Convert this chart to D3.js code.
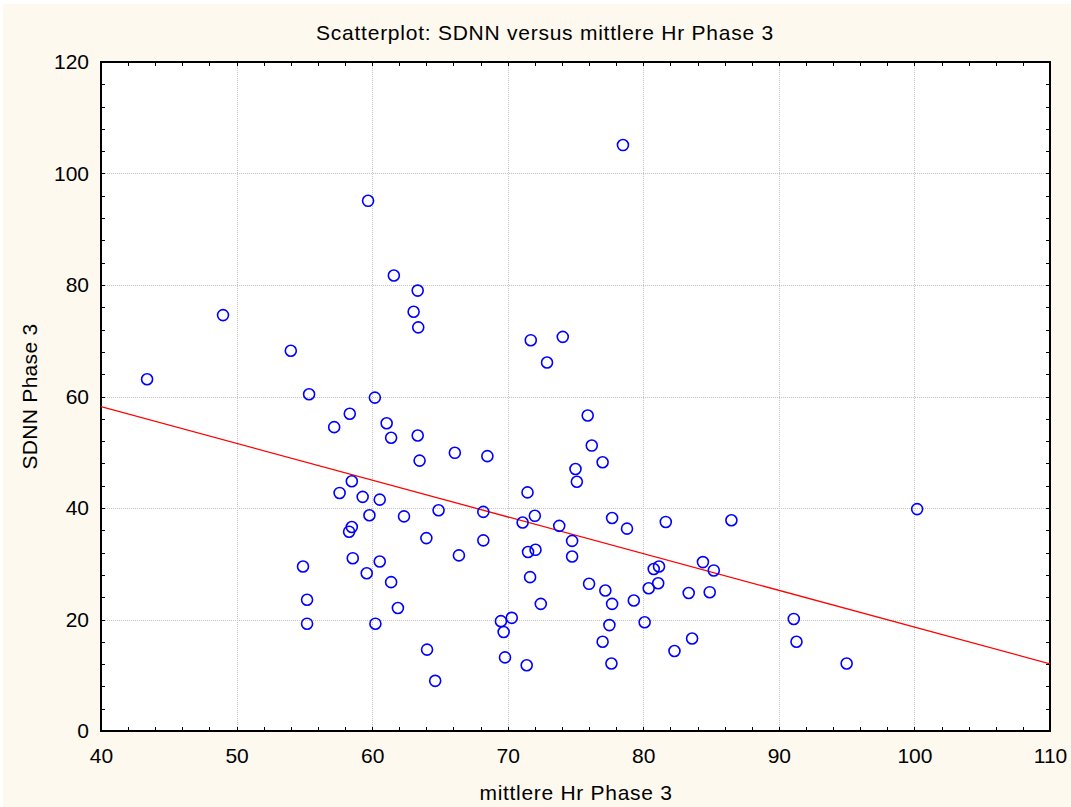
<!DOCTYPE html>
<html>
<head>
<meta charset="utf-8">
<script src="https://cdn.jsdelivr.net/npm/d3@7"></script>
<style>
  html, body { margin: 0; padding: 0; background: #ffffff; }
  svg { display: block; }
  text { font-family: "Liberation Sans", Arial, sans-serif; fill: #000; }
</style>
</head>
<body>
<svg id="chart" width="1071" height="807"></svg>
<script>
// mittlere Hr Phase 3 (x) and SDNN Phase 3 (y), one entry per subject
const hrPhase3 = [
  43.4, 49.0, 54.0, 55.35, 60.2, 61.6, 63.36, 63.06, 63.4, 58.35,
  57.2, 61.07, 61.4, 63.36, 63.5, 58.5, 57.6, 59.3, 60.56, 64.9,
  68.2, 71.1, 59.8, 62.35, 58.5, 58.3, 64.0, 68.2, 66.4, 58.57,
  60.56, 54.9, 59.6, 61.4, 55.2, 61.9, 55.2, 60.24, 69.5, 70.3,
  69.7, 69.8, 64.05, 64.65, 71.4, 71.7, 74.06, 72.9, 75.9, 76.2,
  68.5, 77.0, 75.0, 75.1, 71.46, 66.1, 72.0, 73.8, 77.7, 78.8,
  81.66, 86.5, 74.75, 71.5, 72.05, 74.75, 71.65, 76.0, 77.2, 77.7,
  72.44, 79.3, 80.4, 81.1, 80.77, 81.16, 84.4, 85.2, 83.35, 84.9,
  77.5, 77.0, 77.65, 80.1, 83.6, 82.3, 100.2, 91.1, 91.3, 95.0,
  78.5, 59.7
];
const sdnnPhase3 = [
  63.1, 74.6, 68.2, 60.4, 59.8, 81.7, 79.0, 75.2, 72.4, 56.9,
  54.5, 55.2, 52.6, 53.0, 48.5, 44.8, 42.7, 42.0, 41.5, 39.6,
  39.3, 37.4, 38.7, 38.5, 36.6, 35.75, 34.6, 34.2, 31.5, 31.0,
  30.4, 29.5, 28.3, 26.7, 23.55, 22.06, 19.25, 19.25, 19.7, 20.3,
  17.76, 13.2, 14.6, 9.0, 11.8, 70.1, 70.7, 66.1, 56.6, 51.2,
  49.3, 48.2, 47.0, 44.7, 42.8, 49.9, 38.6, 36.8, 38.2, 36.3,
  37.5, 37.8, 34.1, 32.1, 32.5, 31.3, 27.6, 26.4, 25.2, 22.8,
  22.8, 23.4, 25.6, 26.5, 29.06, 29.5, 30.3, 28.8, 24.75, 24.9,
  19.0, 16.0, 12.1, 19.5, 16.6, 14.35, 39.8, 20.1, 16.0, 12.1,
  105.1, 95.1
];

// Fitted linear regression: SDNN = intercept + slope * Hr
const fitIntercept = 84.54;
const fitSlope = -0.659;

// Axis ranges and tick labels
const xDomain = [40, 110];
const yDomain = [0, 120];
const xTickValues = [40, 50, 60, 70, 80, 90, 100, 110];
const yTickValues = [0, 20, 40, 60, 80, 100, 120];

const chartTitle = "Scatterplot: SDNN versus mittlere Hr Phase 3";
const xTitle = "mittlere Hr Phase 3";
const yTitle = "SDNN Phase 3";

const svg = d3.select("#chart");
const W = 1071, H = 807;
const m = { left: 101, right: 1050, top: 62, bottom: 731 };
const fontSize = 21;

// page background with a thin lighter margin
svg.append("rect").attr("x", 0).attr("y", 0).attr("width", W).attr("height", H).attr("fill", "#ffffff");
svg.append("rect").attr("x", 3).attr("y", 4).attr("width", W - 3).attr("height", H - 4).attr("fill", "#fdf9ef");

const x = d3.scaleLinear().domain(xDomain).range([m.left, m.right]);
const y = d3.scaleLinear().domain(yDomain).range([m.bottom, m.top]);

// plot area
svg.append("rect")
  .attr("x", m.left).attr("y", m.top)
  .attr("width", m.right - m.left).attr("height", m.bottom - m.top)
  .attr("fill", "#ffffff");

// dotted grid at the major ticks
const grid = svg.append("g").attr("stroke", "#c4c4c4").attr("stroke-width", 1).attr("stroke-dasharray", "1,1");
grid.selectAll(".gx").data(xTickValues.slice(1, -1)).join("line")
  .attr("x1", d => Math.round(x(d)) + 0.5).attr("x2", d => Math.round(x(d)) + 0.5)
  .attr("y1", m.top).attr("y2", m.bottom);
grid.selectAll(".gy").data(yTickValues.slice(1, -1)).join("line")
  .attr("y1", d => Math.round(y(d)) + 0.5).attr("y2", d => Math.round(y(d)) + 0.5)
  .attr("x1", m.left).attr("x2", m.right);

// minor ticks on all four sides, pointing inward
const xMinor = d3.range(xDomain[0], xDomain[1] + 0.001, 2);
const yMinor = d3.range(yDomain[0], yDomain[1] + 0.001, 4);
const tl = 4;
const ticks = svg.append("g").attr("stroke", "#000").attr("stroke-width", 1);
xMinor.forEach(v => {
  const px = Math.round(x(v)) + 0.5;
  ticks.append("line").attr("x1", px).attr("x2", px).attr("y1", m.bottom).attr("y2", m.bottom - tl);
  ticks.append("line").attr("x1", px).attr("x2", px).attr("y1", m.top).attr("y2", m.top + tl);
});
yMinor.forEach(v => {
  const py = Math.round(y(v)) + 0.5;
  ticks.append("line").attr("y1", py).attr("y2", py).attr("x1", m.left).attr("x2", m.left + tl);
  ticks.append("line").attr("y1", py).attr("y2", py).attr("x1", m.right).attr("x2", m.right - tl);
});

// frame
svg.append("rect")
  .attr("x", m.left).attr("y", m.top)
  .attr("width", m.right - m.left).attr("height", m.bottom - m.top)
  .attr("fill", "none").attr("stroke", "#000").attr("stroke-width", 2);

// tick labels via d3 axes (lines hidden, labels only)
const xAxis = svg.append("g").attr("transform", `translate(0,${m.bottom})`)
  .call(d3.axisBottom(x).tickValues(xTickValues).tickSize(0).tickPadding(17).tickFormat(d3.format("d")));
const yAxis = svg.append("g").attr("transform", `translate(${m.left},0)`)
  .call(d3.axisLeft(y).tickValues(yTickValues).tickSize(0).tickPadding(12).tickFormat(d3.format("d")));
[xAxis, yAxis].forEach(a => {
  a.select(".domain").remove();
  a.selectAll("text").attr("font-family", "Liberation Sans, Arial, sans-serif")
    .attr("font-size", fontSize).attr("fill", "#000");
});

// regression line, clipped to the plot area
svg.append("clipPath").attr("id", "plotClip").append("rect")
  .attr("x", m.left).attr("y", m.top).attr("width", m.right - m.left).attr("height", m.bottom - m.top);
const fitLine = d3.line().x(d => x(d)).y(d => y(fitIntercept + fitSlope * d));
svg.append("path")
  .attr("clip-path", "url(#plotClip)")
  .attr("d", fitLine(xDomain))
  .attr("fill", "none").attr("stroke", "#ff0000").attr("stroke-width", 1.3);

// points
svg.append("g").attr("clip-path", "url(#plotClip)")
  .selectAll("circle").data(d3.range(hrPhase3.length)).join("circle")
  .attr("cx", i => x(hrPhase3[i]))
  .attr("cy", i => y(sdnnPhase3[i]))
  .attr("r", 5.5)
  .attr("fill", "none").attr("stroke", "#0000ff").attr("stroke-width", 1.6);

// titles
svg.append("text").attr("x", 545).attr("y", 40).attr("text-anchor", "middle")
  .attr("font-size", fontSize).attr("letter-spacing", 0.75).text(chartTitle);
svg.append("text").attr("x", 576).attr("y", 800).attr("text-anchor", "middle")
  .attr("font-size", fontSize).attr("letter-spacing", 0.7).text(xTitle);
svg.append("text").attr("transform", `translate(37,${(m.top + m.bottom) / 2}) rotate(-90)`)
  .attr("text-anchor", "middle").attr("font-size", fontSize).attr("letter-spacing", 0.3).text(yTitle);
</script>
</body>
</html>
